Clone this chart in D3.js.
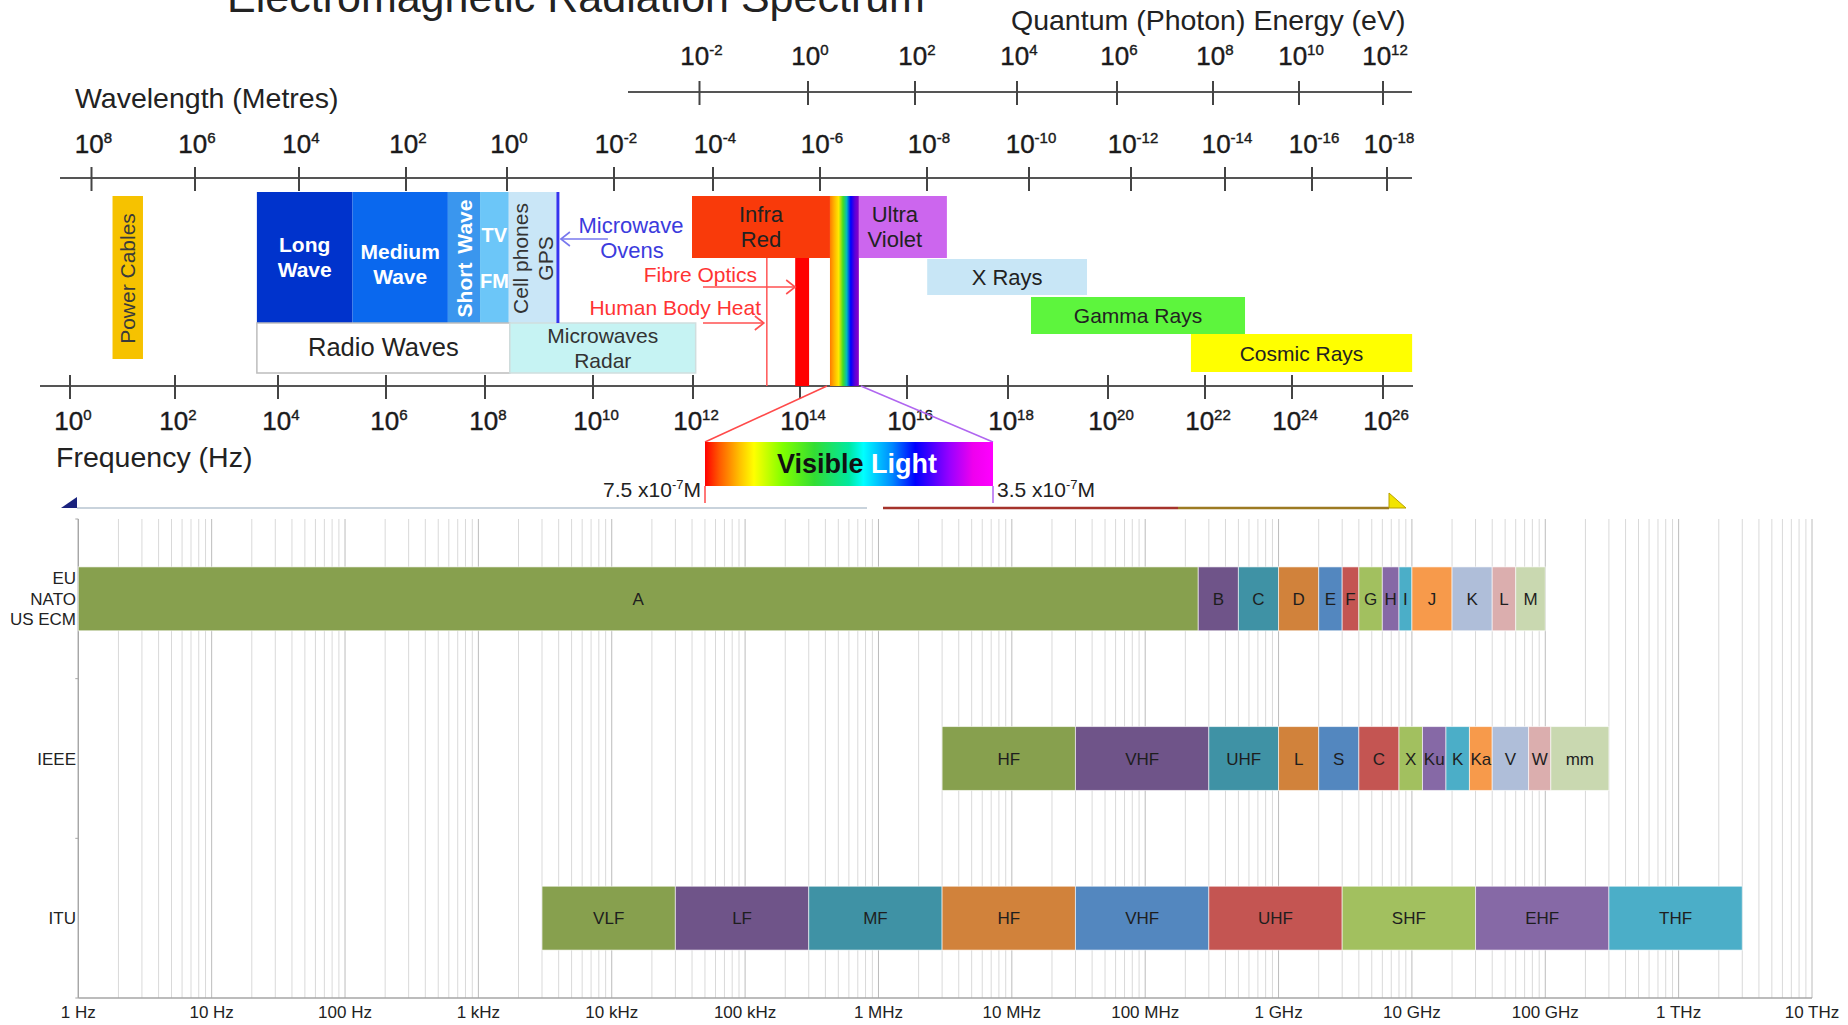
<!DOCTYPE html>
<html><head><meta charset="utf-8">
<script src="https://cdn.jsdelivr.net/npm/d3@7"></script>
<style>html,body{margin:0;padding:0;background:#fff;overflow:hidden}svg{display:block;font-family:"Liberation Sans",Arial,Helvetica,sans-serif}</style>
</head><body><svg id="c" width="1848" height="1025"></svg>
<script>
// ================= DATA =================
// --- top illustration: axis exponents ---
const freqExps = [0,2,4,6,8,10,12,14,16,18,20,22,24,26];            // Frequency (Hz) 10^n
const waveExps = [8,6,4,2,0,-2,-4,-6,-8,-10,-12,-14,-16,-18];        // Wavelength (m) 10^n
const energyExps = [-2,0,2,4,6,8,10,12];                              // Photon energy (eV) 10^n
// --- top illustration: spectrum regions (log10 Hz) ---
const topBandNames = ["Power Cables","Long Wave","Medium Wave","Short Wave","TV FM","Cell phones GPS","Radio Waves","Microwaves Radar","Infra Red","Ultra Violet","X Rays","Gamma Rays","Cosmic Rays"];
const topBandLogHzStart = [0.81,3.59,5.38,7.25,7.90,8.44,3.59,8.46,11.98,15.10,16.40,18.46,21.71];
const topBandLogHzEnd   = [1.39,5.38,7.25,7.90,8.44,9.32,8.46,12.05,14.56,16.79,19.58,22.92,26.64];
const visibleLogHz = [14.56,15.10];
const fibreOpticsLogHz = [13.91,14.17];
const bodyHeatLogHz = 13.38;
const microwaveOvenLogHz = 9.35;
const visibleEdgeLabels = [["7.5 x10","-7","M"],["3.5 x10","-7","M"]];
// --- bottom chart ---
const rows = ["EU|NATO|US ECM","IEEE","ITU"];
const euBands = ["A","B","C","D","E","F","G","H","I","J","K","L","M"];
const euEdgesHz = [1,250e6,500e6,1e9,2e9,3e9,4e9,6e9,8e9,10e9,20e9,40e9,60e9,100e9];
const ieeeBands = ["HF","VHF","UHF","L","S","C","X","Ku","K","Ka","V","W","mm"];
const ieeeEdgesHz = [3e6,30e6,300e6,1e9,2e9,4e9,8e9,12e9,18e9,27e9,40e9,75e9,110e9,300e9];
const ituBands = ["VLF","LF","MF","HF","VHF","UHF","SHF","EHF","THF"];
const ituEdgesHz = [3e3,30e3,300e3,3e6,30e6,300e6,3e9,30e9,300e9,3e12];
const freqTickValues = [1,1e1,1e2,1e3,1e4,1e5,1e6,1e7,1e8,1e9,1e10,1e11,1e12,1e13];
const freqTickLabels = ["1 Hz","10 Hz","100 Hz","1 kHz","10 kHz","100 kHz","1 MHz","10 MHz","100 MHz","1 GHz","10 GHz","100 GHz","1 THz","10 THz"];

// ================= LAYOUT / STYLE =================
const palette = ["#87A04E","#6F5489","#3F92A5","#D1823B","#5387BF","#C45552","#A2C05F","#8669A6","#4BAEC8","#F79A4B","#AFBED9","#DBAEAE","#C9D8B0"];
// calibration of the (non-uniform) illustration axes
const freqAxisPx = [70,175,278,386,485,593,693,800,907,1008,1108,1205,1292,1383];
const waveAxisPx = [91.5,195,299,406,507,614,713,820,927,1029,1131,1225,1312,1387];
const energyAxisPx = [699.5,808,915,1017,1117,1213,1299,1383];
const boxStyle = {
  "Power Cables":   {y:196,h:163,fill:"#F6C200",color:"#3a3a3a",size:21,rot:true,lines:["Power Cables"]},
  "Long Wave":      {y:192,h:131,fill:"#0033CC",color:"#fff",size:21,bold:true,lines:["Long","Wave"],base:[252,277]},
  "Medium Wave":    {y:192,h:131,fill:"#0A68EE",color:"#fff",size:21,bold:true,lines:["Medium","Wave"],base:[259,284]},
  "Short Wave":     {y:192,h:131,fill:"#3A96EE",color:"#fff",size:21,bold:true,rot:true,lines:["Short Wave"]},
  "TV FM":          {y:192,h:131,fill:"#6CC6F8",color:"#fff",size:20,bold:true,lines:["TV","FM"],base:[242,288]},
  "Cell phones GPS":{y:192,h:131,fill:"#C9E6F7",color:"#333",size:21,rot:true,lines:["Cell phones","GPS"]},
  "Radio Waves":    {y:323,h:50,fill:"#fff",stroke:"#bdbdbd",color:"#222",size:25.5,lines:["Radio Waves"],base:[356]},
  "Microwaves Radar":{y:323,h:50,fill:"#C6F3F3",stroke:"#d0dede",color:"#333",size:21,lines:["Microwaves","Radar"],base:[343,368]},
  "Infra Red":      {y:196,h:62,fill:"#F93A0A",color:"#222",size:22,lines:["Infra","Red"],base:[222,247]},
  "Ultra Violet":   {y:196,h:62,fill:"#CC66EE",color:"#222",size:22,lines:["Ultra","Violet"],base:[222,247],dx:-8},
  "X Rays":         {y:259,h:36,fill:"#C8E6F6",color:"#222",size:22,lines:["X Rays"],base:[285]},
  "Gamma Rays":     {y:297,h:37,fill:"#5DF53D",color:"#222",size:21,lines:["Gamma Rays"],base:[323]},
  "Cosmic Rays":    {y:334,h:38,fill:"#FFFF00",color:"#222",size:21,lines:["Cosmic Rays"],base:[361]}
};

const svg = d3.select("#c");
const defs = svg.append("defs");
function grad(id, stops){
  const g = defs.append("linearGradient").attr("id",id).attr("x1","0").attr("x2","1").attr("y1","0").attr("y2","0");
  stops.forEach(s=>g.append("stop").attr("offset",s[0]).attr("stop-color",s[1]));
}
grad("strip",[[0,"#FF7A00"],[0.15,"#FFB400"],[0.3,"#FFE800"],[0.45,"#44DD22"],[0.58,"#00BBBB"],[0.72,"#0000FF"],[0.86,"#5A00D8"],[1,"#8A00C8"]]);
grad("vis",[[0,"#FF0000"],[0.05,"#FF5A00"],[0.12,"#FFC000"],[0.17,"#FFFF00"],[0.27,"#80FF00"],[0.38,"#33DD33"],[0.5,"#00E8A0"],[0.55,"#00FFFF"],[0.65,"#0088FF"],[0.73,"#0000FF"],[0.85,"#9900FF"],[0.93,"#EE00EE"],[1,"#FF00FF"]]);

// ================= TOP ILLUSTRATION =================
const T = svg.append("g");
const fx = d3.scaleLinear().domain(freqExps).range(freqAxisPx);
const wx = d3.scaleLinear().domain(waveExps).range(waveAxisPx);
const ex = d3.scaleLinear().domain(energyExps).range(energyAxisPx);

// the title is cropped at the top edge in the reference picture
T.append("text").attr("x",576).attr("y",12).attr("text-anchor","middle").attr("font-size",43).attr("fill","#222").text("Electromagnetic Radiation Spectrum");
T.append("text").attr("x",1011).attr("y",30).attr("font-size",28.5).attr("fill","#222").text("Quantum (Photon) Energy (eV)");
T.append("text").attr("x",75).attr("y",108).attr("font-size",28.5).attr("fill","#222").text("Wavelength (Metres)");
T.append("text").attr("x",56).attr("y",467).attr("font-size",28.5).attr("fill","#222").text("Frequency (Hz)");

function expAxis(scale, exps, y, x0, x1, labelY, dxLab){
  const g = T.append("g");
  g.append("line").attr("x1",x0).attr("x2",x1).attr("y1",y).attr("y2",y).attr("stroke","#555").attr("stroke-width",2);
  g.selectAll("line.t").data(exps).join("line").attr("class","t")
    .attr("x1",d=>scale(d)).attr("x2",d=>scale(d)).attr("y1",y-11).attr("y2",y+13).attr("stroke","#444").attr("stroke-width",2);
  const t = g.selectAll("text").data(exps).join("text")
    .attr("x",d=>scale(d)+dxLab).attr("y",labelY).attr("text-anchor","middle").attr("fill","#1a1a1a")
    .attr("stroke","#1a1a1a").attr("stroke-width",0.4).attr("font-size",26);
  t.append("tspan").text("10");
  t.append("tspan").attr("font-size",15).attr("dy",-10).text(d=>String(d));
}
expAxis(ex, energyExps, 92, 628, 1412, 65, 2);
expAxis(wx, waveExps, 178, 60, 1412, 153, 2);
expAxis(fx, freqExps, 386, 40, 1413, 430, 3);

// region boxes
topBandNames.forEach((name,i)=>{
  const st = boxStyle[name];
  const x0 = fx(topBandLogHzStart[i]), x1 = fx(topBandLogHzEnd[i]);
  T.append("rect").attr("x",x0).attr("y",st.y).attr("width",x1-x0).attr("height",st.h)
    .attr("fill",st.fill).attr("stroke",st.stroke||"none").attr("stroke-width",st.stroke?1.5:0);
  const cx = (x0+x1)/2 + (st.dx||0);
  if(st.rot){
    const n = st.lines.length, cy = st.y + st.h/2 + 1;
    st.lines.forEach((ln,j)=>{
      const off = (j-(n-1)/2)*25;
      const tx = T.append("text").attr("transform",`translate(${cx+off+st.size*0.36},${cy}) rotate(-90)`)
        .attr("text-anchor","middle").attr("font-size",st.size).attr("fill",st.color).attr("font-weight",st.bold?"bold":"normal");
      if(ln==="Short Wave"){ tx.append("tspan").text("Short"); tx.append("tspan").attr("dx",9).text("Wave"); }
      else tx.text(ln);
    });
  } else {
    st.lines.forEach((ln,j)=>{
      T.append("text").attr("x",cx).attr("y",st.base[j]).attr("text-anchor","middle").attr("font-size",st.size)
        .attr("fill",st.color).attr("font-weight",st.bold?"bold":"normal").text(ln);
    });
  }
});

// microwave oven line + arrow
const mwx = fx(microwaveOvenLogHz);
T.append("line").attr("x1",mwx).attr("x2",mwx).attr("y1",192).attr("y2",323).attr("stroke","#3434EE").attr("stroke-width",3);
function arrow(xTail, xTip, y, color){
  const s = xTip > xTail ? -1 : 1;
  T.append("line").attr("x1",xTail).attr("x2",xTip).attr("y1",y).attr("y2",y).attr("stroke",color).attr("stroke-width",1.6);
  T.append("path").attr("d",`M${xTip+s*9},${y-7}L${xTip},${y}L${xTip+s*9},${y+7}`).attr("fill","none").attr("stroke",color).attr("stroke-width",1.6);
}
arrow(mwx+50, mwx+3, 239, "#7878EE");
T.append("text").attr("x",631).attr("y",233).attr("text-anchor","middle").attr("font-size",22).attr("fill","#3B3BDD").text("Microwave");
T.append("text").attr("x",632).attr("y",258).attr("text-anchor","middle").attr("font-size",22).attr("fill","#3B3BDD").text("Ovens");

// visible strip, fibre optics bar, body heat line
const vx0 = fx(visibleLogHz[0]), vx1 = fx(visibleLogHz[1]);
T.append("rect").attr("x",vx0).attr("y",196).attr("width",vx1-vx0).attr("height",190).attr("fill","url(#strip)");
const fo0 = fx(fibreOpticsLogHz[0]), fo1 = fx(fibreOpticsLogHz[1]);
T.append("rect").attr("x",fo0).attr("y",258).attr("width",fo1-fo0).attr("height",128).attr("fill","#FF0000");
const bhx = fx(bodyHeatLogHz);
T.append("line").attr("x1",bhx).attr("x2",bhx).attr("y1",258).attr("y2",386).attr("stroke","#FF5555").attr("stroke-width",1.5);
T.append("text").attr("x",757).attr("y",282).attr("text-anchor","end").attr("font-size",21).attr("fill","#FF3333").text("Fibre Optics");
T.append("text").attr("x",761).attr("y",315).attr("text-anchor","end").attr("font-size",21).attr("fill","#FF3333").text("Human Body Heat");
arrow(703, fo0, 287, "#FF5050");
arrow(703, bhx-3, 323, "#FF5050");

// visible light magnifier
const VB = {x0:705, x1:993, y0:442, y1:486};
T.append("line").attr("x1",vx0-3).attr("y1",386).attr("x2",VB.x0).attr("y2",VB.y0).attr("stroke","#FF4A4A").attr("stroke-width",1.5);
T.append("line").attr("x1",vx1+2).attr("y1",386).attr("x2",VB.x1).attr("y2",VB.y0).attr("stroke","#B066F0").attr("stroke-width",1.5);
T.append("rect").attr("x",VB.x0).attr("y",VB.y0).attr("width",VB.x1-VB.x0).attr("height",VB.y1-VB.y0).attr("fill","url(#vis)");
const vt = T.append("text").attr("x",857).attr("y",473).attr("text-anchor","middle").attr("font-size",27).attr("font-weight","bold");
vt.append("tspan").attr("fill","#111").text("Visible ");
vt.append("tspan").attr("fill","#fff").text("Light");
T.append("line").attr("x1",VB.x0).attr("x2",VB.x0).attr("y1",VB.y1).attr("y2",503).attr("stroke","#FF4A4A").attr("stroke-width",1.5);
T.append("line").attr("x1",VB.x1).attr("x2",VB.x1).attr("y1",VB.y1).attr("y2",503).attr("stroke","#B066F0").attr("stroke-width",1.5);
visibleEdgeLabels.forEach((lab,i)=>{
  const t = T.append("text").attr("x",i===0?701:997).attr("y",497).attr("text-anchor",i===0?"end":"start").attr("font-size",21).attr("fill","#222");
  t.append("tspan").text(lab[0]);
  t.append("tspan").attr("font-size",13).attr("dy",-8).text(lab[1]);
  t.append("tspan").attr("dy",8).text(lab[2]);
});

// clipped arrow strip at bottom of the illustration
T.append("path").attr("d","M77,497L77,508L61,508Z").attr("fill","#1A237E");
T.append("line").attr("x1",77).attr("x2",867).attr("y1",508).attr("y2",508).attr("stroke","#C9D3DC").attr("stroke-width",2);
T.append("line").attr("x1",883).attr("x2",1178).attr("y1",508).attr("y2",508).attr("stroke","#A5332B").attr("stroke-width",2.5);
T.append("line").attr("x1",1178).attr("x2",1389).attr("y1",508).attr("y2",508).attr("stroke","#9C7A22").attr("stroke-width",2.5);
T.append("path").attr("d","M1389,493L1389,508L1406,508Z").attr("fill","#F2E400").attr("stroke","#B8A000").attr("stroke-width",1);

// ================= BOTTOM CHART =================
const B = svg.append("g");
const x = d3.scaleLog().domain([1,1e13]).range([78.3,1812]);
const y = d3.scaleBand().domain(rows).range([519,998]).paddingInner(0.6).paddingOuter(0.3);
const yTop = 519, yBot = 998;

// grid
const gridVals = [];
for(let d=0; d<13; d++) for(let m=1;m<=9;m++) gridVals.push(m*Math.pow(10,d));
gridVals.push(1e13);
B.selectAll("line.g").data(gridVals).join("line").attr("class","g")
  .attr("x1",d=>x(d)).attr("x2",d=>x(d)).attr("y1",yTop).attr("y2",yBot)
  .attr("stroke",d=>Math.abs(Math.log10(d)-Math.round(Math.log10(d)))<1e-9?"#bcbcbc":"#d9d9d9").attr("stroke-width",1);

// axes lines
B.append("line").attr("x1",x(1)).attr("x2",x(1e13)).attr("y1",yBot).attr("y2",yBot).attr("stroke","#a6a6a6").attr("stroke-width",1.3);
B.append("line").attr("x1",x(1)).attr("x2",x(1)).attr("y1",yTop).attr("y2",yBot).attr("stroke","#a6a6a6").attr("stroke-width",1.3);
const bounds = rows.map(r=>y(r)-y.step()*0.3).concat([yBot]);
B.selectAll("line.yt").data(bounds).join("line").attr("class","yt")
  .attr("x1",x(1)-3).attr("x2",x(1)).attr("y1",d=>d).attr("y2",d=>d).attr("stroke","#a6a6a6");

// x tick labels
B.selectAll("text.xl").data(freqTickValues).join("text").attr("class","xl")
  .attr("x",d=>x(d)).attr("y",1018).attr("text-anchor","middle").attr("font-size",17).attr("fill","#222")
  .text((d,i)=>freqTickLabels[i]);

// row labels
rows.forEach(r=>{
  const parts = r.split("|"), cy = y(r)+y.bandwidth()/2;
  parts.forEach((p,j)=>{
    B.append("text").attr("x",76).attr("y",cy+6+(j-(parts.length-1)/2)*20.5).attr("text-anchor","end")
      .attr("font-size",17).attr("fill","#222").text(p);
  });
});

// bars
function drawRow(row, names, edges){
  const g = B.append("g");
  const data = names.map((n,i)=>({n, a:edges[i], b:edges[i+1], i}));
  g.selectAll("rect").data(data).join("rect")
    .attr("x",d=>x(d.a)).attr("width",d=>x(d.b)-x(d.a))
    .attr("y",y(row)).attr("height",y.bandwidth())
    .attr("fill",d=>palette[d.i%palette.length]).attr("stroke","#ffffff").attr("stroke-opacity",0.6).attr("stroke-width",1);
  g.selectAll("text").data(data).join("text")
    .attr("x",d=>(x(d.a)+x(d.b))/2).attr("y",y(row)+y.bandwidth()/2+6)
    .attr("text-anchor","middle").attr("font-size",17).attr("fill","#1e1e1e").text(d=>d.n);
}
drawRow(rows[0], euBands, euEdgesHz);
drawRow(rows[1], ieeeBands, ieeeEdgesHz);
drawRow(rows[2], ituBands, ituEdgesHz);
</script></body></html>
